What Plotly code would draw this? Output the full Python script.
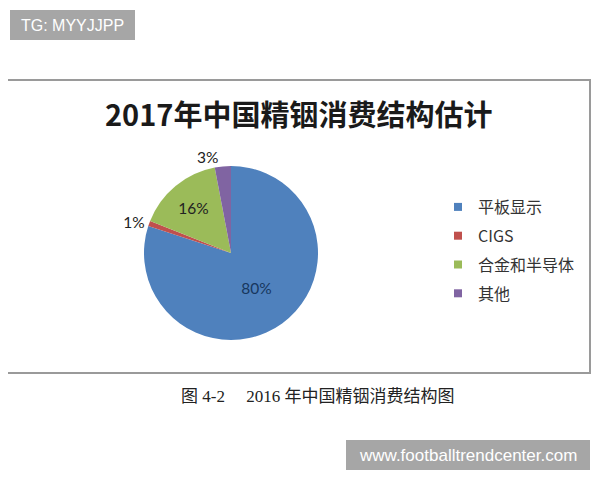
import plotly.graph_objects as go

categories = ["平板显示", "CIGS", "合金和半导体", "其他"]
values = [80, 1, 16, 3]
colors = ["#4f81bd", "#c0504d", "#9bbb59", "#8064a2"]
label_pos = ["inside", "outside", "inside", "outside"]
label_colors = ["#17375e", "#222222", "#222222", "#222222"]

title_text = "2017年中国精铟消费结构估计"
caption_text = "图 4-2　 2016 年中国精铟消费结构图"

# page body has an 8px margin; lay out in window pixels and convert
OFF = 8
W, H = 600 - OFF, 480 - OFF


def px(x):
    return (x - OFF) / W


def py(y):
    return 1 - (y - OFF) / H


cx, cy, r = 231, 253, 87

fig = go.Figure()
fig.add_trace(go.Pie(
    labels=categories, values=values, sort=False, direction="clockwise", rotation=0,
    marker=dict(colors=colors, line=dict(color="white", width=0)),
    texttemplate="%{percent:.0%}",
    textposition=label_pos,
    textfont=dict(family="Lato, Noto Sans", size=15.5, color=label_colors),
    insidetextorientation="horizontal",
    showlegend=False,
    domain=dict(x=[px(cx - r), px(cx + r)], y=[py(cy + r), py(cy - r)]),
))

for c, col in zip(categories, colors):
    fig.add_trace(go.Scatter(
        x=[None], y=[None], mode="markers", name=c, legendgroup=c,
        marker=dict(symbol="square", size=8, color=col),
    ))

fig.update_layout(
    width=W, height=H, margin=dict(l=0, r=0, t=0, b=0),
    paper_bgcolor="white", plot_bgcolor="white",
    xaxis=dict(visible=False), yaxis=dict(visible=False),
    legend=dict(x=px(438), y=py(190), xanchor="left", yanchor="top",
                font=dict(family="Noto Sans CJK SC", size=16, color="#333333"),
                tracegroupgap=5, itemwidth=30, bgcolor="rgba(0,0,0,0)"),
    shapes=[
        dict(type="rect", xref="paper", yref="paper", x0=px(7), x1=px(590),
             y0=py(373), y1=py(80), line=dict(color="#9a9a9a", width=2), layer="below"),
        dict(type="rect", xref="paper", yref="paper", x0=px(10), x1=px(135),
             y0=py(40), y1=py(10), fillcolor="#a6a6a6", line=dict(width=0), layer="below"),
        dict(type="rect", xref="paper", yref="paper", x0=px(346), x1=px(590),
             y0=py(470), y1=py(440), fillcolor="#a6a6a6", line=dict(width=0), layer="below"),
    ],
    annotations=[
        dict(text=title_text, x=px(298), y=py(113), xref="paper", yref="paper",
             xanchor="center", yanchor="middle", showarrow=False,
             font=dict(family="Noto Sans CJK SC", size=29, color="#1a1a1a", weight="bold")),
        dict(text=caption_text, x=px(317), y=py(396), xref="paper", yref="paper",
             xanchor="center", yanchor="middle", showarrow=False,
             font=dict(family="Liberation Serif, Noto Sans CJK SC", size=17, color="#222222")),
        dict(text="TG: MYYJJPP", x=px(72.5), y=py(25), xref="paper", yref="paper",
             xanchor="center", yanchor="middle", showarrow=False,
             font=dict(family="Liberation Sans", size=16, color="white")),
        dict(text="www.footballtrendcenter.com", x=px(468), y=py(455), xref="paper", yref="paper",
             xanchor="center", yanchor="middle", showarrow=False,
             font=dict(family="Liberation Sans", size=17, color="white")),
    ],
)

fig.write_html("out.html")
